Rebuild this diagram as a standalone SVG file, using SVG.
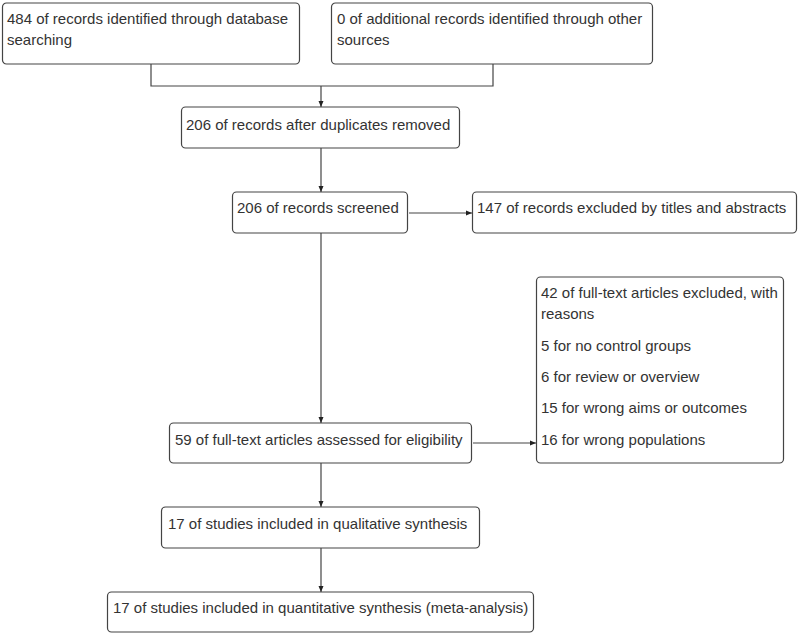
<svg xmlns="http://www.w3.org/2000/svg" width="800" height="635" viewBox="0 0 800 635">
<defs>
<style>
.box{fill:#fff;stroke:#444;stroke-width:1.2}
.t{font-family:"Liberation Sans",Arial,sans-serif;font-size:15px;fill:#333}
.c{fill:none;stroke:#444;stroke-width:1.2}
</style>
<marker id="ah" markerWidth="6" markerHeight="6" refX="6" refY="3" orient="auto" markerUnits="userSpaceOnUse">
<path d="M0,0.5 L6,3 L0,5.5 Z" fill="#222"/>
</marker>
</defs>
<rect width="800" height="635" fill="#fff"/>
<g id="connectors">
<path class="c" d="M151,64 V86 H493 V64"/>
<path class="c" d="M321,86 V107" marker-end="url(#ah)"/>
<path class="c" d="M321,148 V192" marker-end="url(#ah)"/>
<path class="c" d="M321,233 V423" marker-end="url(#ah)"/>
<path class="c" d="M409,213 H472" marker-end="url(#ah)"/>
<path class="c" d="M473,443 H536" marker-end="url(#ah)"/>
<path class="c" d="M321,463 V507" marker-end="url(#ah)"/>
<path class="c" d="M321,548 V592" marker-end="url(#ah)"/>
</g>
<g id="n1">
<rect class="box" x="2.5" y="3" width="297" height="61" rx="4"/>
<text class="t" x="7" y="24">484 of records identified through database</text>
<text class="t" x="7" y="45">searching</text>
</g>
<g id="n2">
<rect class="box" x="331.5" y="3" width="321" height="61" rx="4"/>
<text class="t" x="337" y="24">0 of additional records identified through other</text>
<text class="t" x="337" y="45">sources</text>
</g>
<g id="n3">
<rect class="box" x="181.5" y="107" width="278" height="41" rx="4"/>
<text class="t" x="186" y="130">206 of records after duplicates removed</text>
</g>
<g id="n4">
<rect class="box" x="232.5" y="192" width="175" height="41" rx="4"/>
<text class="t" x="237" y="213">206 of records screened</text>
</g>
<g id="n5">
<rect class="box" x="472.5" y="192" width="324" height="41" rx="4"/>
<text class="t" x="477" y="213">147 of records excluded by titles and abstracts</text>
</g>
<g id="n6">
<rect class="box" x="536.5" y="277" width="247" height="186" rx="4"/>
<text class="t" x="541" y="298">42 of full-text articles excluded, with</text>
<text class="t" x="541" y="319">reasons</text>
<text class="t" x="541" y="351">5 for no control groups</text>
<text class="t" x="541" y="382">6 for review or overview</text>
<text class="t" x="541" y="413">15 for wrong aims or outcomes</text>
<text class="t" x="541" y="445">16 for wrong populations</text>
</g>
<g id="n7">
<rect class="box" x="169.5" y="423" width="302" height="40" rx="4"/>
<text class="t" x="175" y="445">59 of full-text articles assessed for eligibility</text>
</g>
<g id="n8">
<rect class="box" x="161.5" y="507" width="318" height="41" rx="4"/>
<text class="t" x="168" y="529">17 of studies included in qualitative synthesis</text>
</g>
<g id="n9">
<rect class="box" x="107.5" y="592" width="426" height="40" rx="4"/>
<text class="t" x="113" y="613">17 of studies included in quantitative synthesis (meta-analysis)</text>
</g>
</svg>
